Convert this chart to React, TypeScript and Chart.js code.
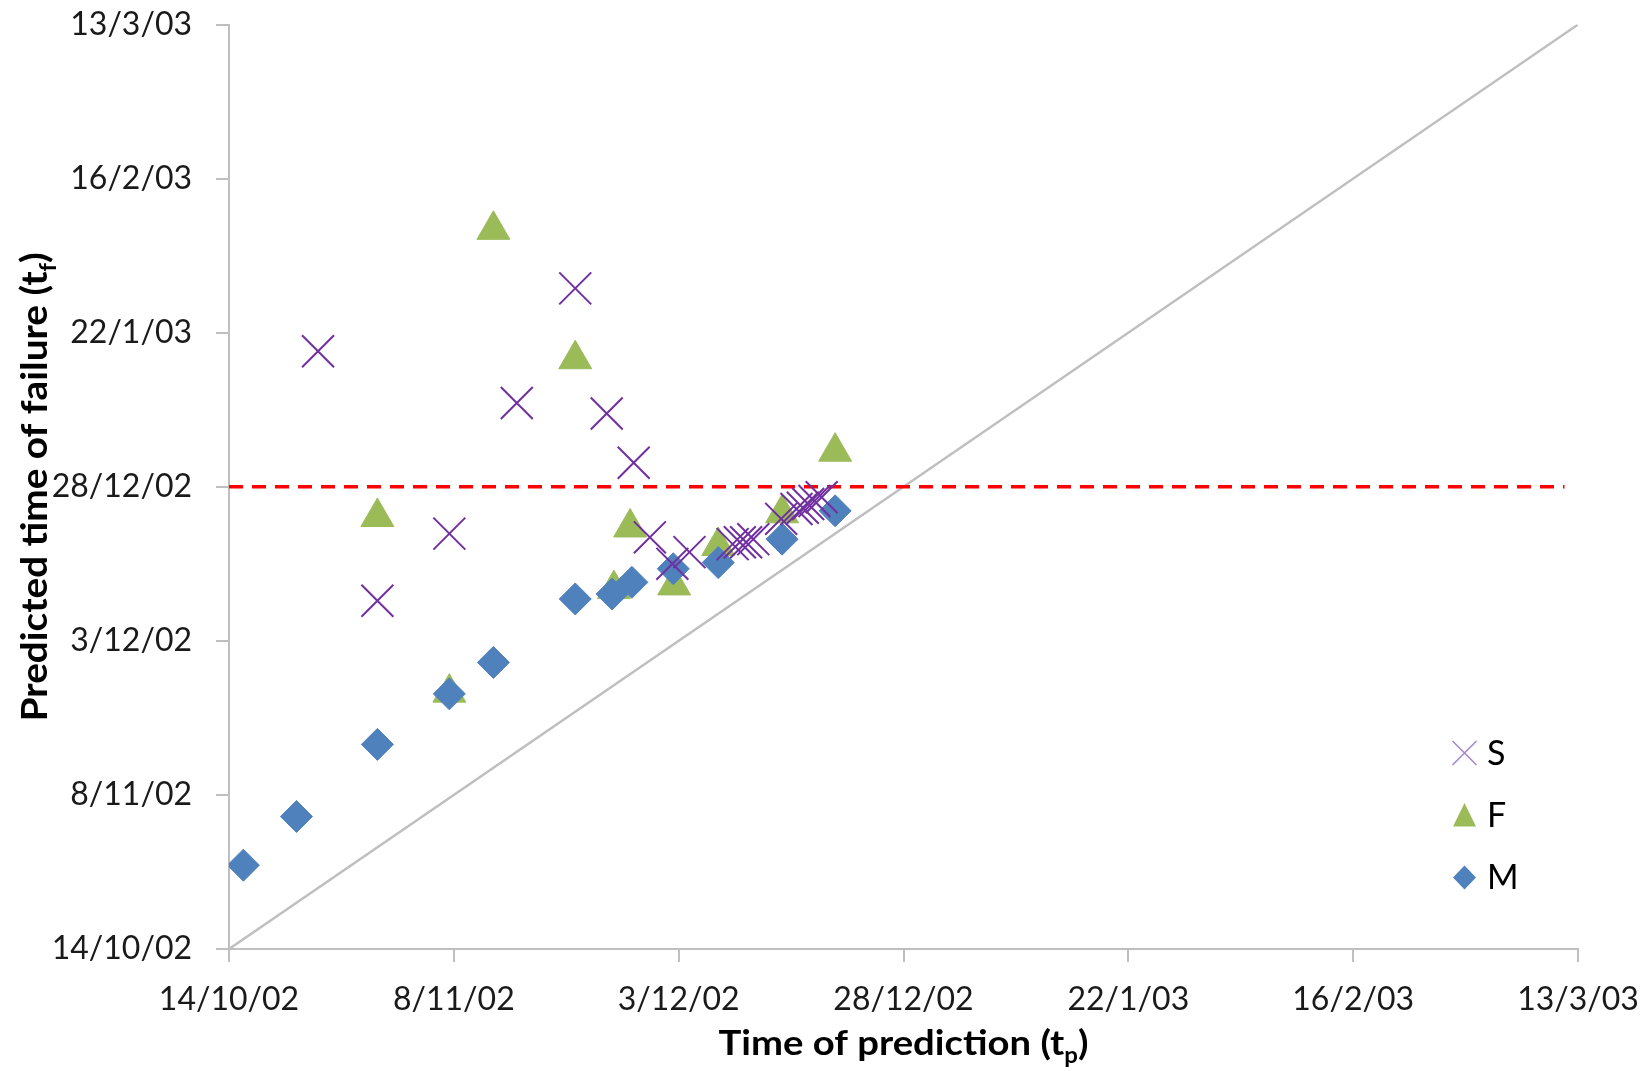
import React, { useEffect, useRef } from 'react';
import { Chart, registerables } from 'chart.js';

Chart.register(...registerables);

// Axis tick labels (one every 25 days, starting 14/10/02 = day 0)
const xTickLabels = ['14/10/02', '8/11/02', '3/12/02', '28/12/02', '22/1/03', '16/2/03', '13/3/03'];
const yTickLabels = ['14/10/02', '8/11/02', '3/12/02', '28/12/02', '22/1/03', '16/2/03', '13/3/03'];
const tickStepDays = 25;
const axisMaxDays = 150;

// Series S (days since 14/10/02)
const sTimeOfPrediction = [9.9, 16.5, 24.5, 32.0, 38.5, 42.0, 45.0, 46.8, 49.3, 51.2, 56.0, 56.8, 57.5, 58.3, 61.4, 63.1, 63.8, 64.4, 65.1, 65.9];
const sPredictedFailure = [97.0, 56.5, 67.4, 88.6, 107.2, 86.9, 78.9, 66.8, 62.5, 64.4, 65.7, 66.0, 66.0, 66.5, 69.8, 71.4, 71.6, 72.2, 72.7, 73.3];

// Series F
const fTimeOfPrediction = [16.5, 24.5, 29.4, 38.5, 42.8, 44.6, 49.5, 54.4, 61.5, 67.4];
const fPredictedFailure = [70.1, 41.6, 116.7, 95.7, 58.4, 68.4, 59.0, 65.4, 70.7, 80.7];

// Series M
const mTimeOfPrediction = [1.6, 7.5, 16.5, 24.5, 29.4, 38.5, 42.6, 44.8, 49.4, 54.4, 61.5, 67.4];
const mPredictedFailure = [13.6, 21.5, 33.2, 41.4, 46.5, 56.8, 57.6, 59.5, 61.7, 62.7, 66.5, 71.1];

// Reference lines
const actualFailureDay = 75; // 28/12/02
const failureLineX = [0, 148.5];
const diagonalX = [0, 150];

const seriesNames = ['S', 'F', 'M'];
const xTitleParts: [string, boolean][] = [['Time of prediction (t', false], ['p', true], [')', false]];
const yTitleParts: [string, boolean][] = [['Predicted time of failure (t', false], ['f', true], [')', false]];

const PURPLE = '#7030A0';
const GREEN = '#9BBB59';
const BLUE = '#4F81BD';
const AXIS_GREY = '#BFBFBF';

function toPoints(xs: number[], ys: number[]) {
  return xs.map((x, i) => ({ x, y: ys[i] }));
}

function drawParts(ctx: CanvasRenderingContext2D, parts: [string, boolean][], size: number, targetWidth: number) {
  const mainFont = `bold ${size}px Lato`;
  const subFont = `bold ${Math.round(size * 0.62)}px Lato`;
  let total = 0;
  const widths = parts.map(([t, sub]) => {
    ctx.font = sub ? subFont : mainFont;
    const w = ctx.measureText(t).width;
    total += w;
    return w;
  });
  const sx = targetWidth / total;
  ctx.scale(sx, 1);
  let x = -total / 2;
  ctx.textAlign = 'left';
  ctx.textBaseline = 'alphabetic';
  parts.forEach(([t, sub], i) => {
    ctx.font = sub ? subFont : mainFont;
    ctx.fillText(t, x, sub ? size * 0.24 : 0);
    x += widths[i];
  });
}

const overlayPlugin = {
  id: 'overlay',
  afterDraw(chart: any) {
    const ctx: CanvasRenderingContext2D = chart.ctx;
    const area = chart.chartArea;
    // axis titles
    ctx.save();
    ctx.fillStyle = '#000';
    ctx.translate((area.left + area.right) / 2, 1055);
    drawParts(ctx, xTitleParts, 35, 370);
    ctx.restore();

    ctx.save();
    ctx.fillStyle = '#000';
    ctx.translate(47, (area.top + area.bottom) / 2);
    ctx.rotate(-Math.PI / 2);
    drawParts(ctx, yTitleParts, 36, 469);
    ctx.restore();

    // legend
    const mx = 1464.5;
    const rows = [753, 815.5, 877.5];
    ctx.save();
    // S
    ctx.strokeStyle = '#A58ACB';
    ctx.lineWidth = 1.6;
    ctx.beginPath();
    ctx.moveTo(mx - 12, rows[0] - 12);
    ctx.lineTo(mx + 12, rows[0] + 12);
    ctx.moveTo(mx + 12, rows[0] - 12);
    ctx.lineTo(mx - 12, rows[0] + 12);
    ctx.stroke();
    // F
    ctx.fillStyle = GREEN;
    ctx.beginPath();
    ctx.moveTo(mx, rows[1] - 12.5);
    ctx.lineTo(mx + 11.5, rows[1] + 11);
    ctx.lineTo(mx - 11.5, rows[1] + 11);
    ctx.closePath();
    ctx.fill();
    // M
    ctx.fillStyle = BLUE;
    ctx.beginPath();
    ctx.moveTo(mx, rows[2] - 12);
    ctx.lineTo(mx + 11.5, rows[2]);
    ctx.lineTo(mx, rows[2] + 12);
    ctx.lineTo(mx - 11.5, rows[2]);
    ctx.closePath();
    ctx.fill();
    ctx.fillStyle = '#000';
    ctx.font = '34px Lato';
    ctx.textAlign = 'left';
    ctx.textBaseline = 'middle';
    seriesNames.forEach((n, i) => ctx.fillText(n, 1487, rows[i] + 1));
    ctx.restore();
  },
};

export default function App() {
  const canvasRef = useRef<HTMLCanvasElement | null>(null);

  useEffect(() => {
    if (!canvasRef.current) return;
    const tickFont = { family: 'Lato', size: 32 };
    const chart = new Chart(canvasRef.current, {
      type: 'scatter',
      data: {
        datasets: [
          {
            label: 'S',
            data: toPoints(sTimeOfPrediction, sPredictedFailure),
            pointStyle: 'crossRot',
            pointRadius: 22.6,
            borderColor: PURPLE,
            backgroundColor: PURPLE,
            pointBorderWidth: 2,
          },
          {
            label: 'M',
            data: toPoints(mTimeOfPrediction, mPredictedFailure),
            pointStyle: 'rectRot',
            pointRadius: 16,
            borderColor: BLUE,
            backgroundColor: BLUE,
            pointBorderWidth: 1,
          },
          {
            label: 'F',
            data: toPoints(fTimeOfPrediction, fPredictedFailure),
            pointStyle: 'triangle',
            pointRadius: 19,
            borderColor: GREEN,
            backgroundColor: GREEN,
            pointBorderWidth: 1,
          },
          {
            label: 'Failure',
            data: failureLineX.map((x) => ({ x, y: actualFailureDay })),
            showLine: true,
            pointRadius: 0,
            borderColor: '#FF0000',
            borderWidth: 3.5,
            borderDash: [14, 9],
          },
          {
            label: 'tf = tp',
            data: diagonalX.map((x) => ({ x, y: x })),
            showLine: true,
            pointRadius: 0,
            borderColor: AXIS_GREY,
            borderWidth: 2.5,
          },
        ],
      },
      options: {
        responsive: true,
        maintainAspectRatio: false,
        animation: false,
        events: [],
        layout: { padding: { left: 0, right: 66, top: 23, bottom: 0 } },
        plugins: { legend: { display: false }, tooltip: { enabled: false } },
        scales: {
          x: {
            type: 'linear',
            min: 0,
            max: axisMaxDays,
            ticks: {
              stepSize: tickStepDays,
              autoSkip: false,
              maxRotation: 0,
              font: tickFont,
              color: '#1a1a1a',
              padding: 18,
              callback: (v: any) => xTickLabels[Math.round(Number(v) / tickStepDays)],
            },
            grid: { drawOnChartArea: false, drawTicks: true, tickLength: 13, color: AXIS_GREY, lineWidth: 2 },
            border: { display: true, color: AXIS_GREY, width: 2 },
            afterFit: (scale: any) => {
              scale.height = 122;
              scale.paddingLeft = 0;
              scale.paddingRight = 0;
            },
          },
          y: {
            type: 'linear',
            min: 0,
            max: axisMaxDays,
            ticks: {
              stepSize: tickStepDays,
              autoSkip: false,
              font: tickFont,
              color: '#1a1a1a',
              padding: 24,
              callback: (v: any) => yTickLabels[Math.round(Number(v) / tickStepDays)],
            },
            grid: { drawOnChartArea: false, drawTicks: true, tickLength: 13, color: AXIS_GREY, lineWidth: 2 },
            border: { display: true, color: AXIS_GREY, width: 2 },
            afterFit: (scale: any) => {
              scale.width = 229;
              scale.paddingTop = 0;
              scale.paddingBottom = 0;
            },
          },
        },
      } as any,
      plugins: [overlayPlugin],
    });
    return () => chart.destroy();
  }, []);

  return (
    <div style={{ position: 'fixed', left: 0, top: 0, width: 1644, height: 1071, background: '#fff' }}>
      <canvas ref={canvasRef} />
    </div>
  );
}
